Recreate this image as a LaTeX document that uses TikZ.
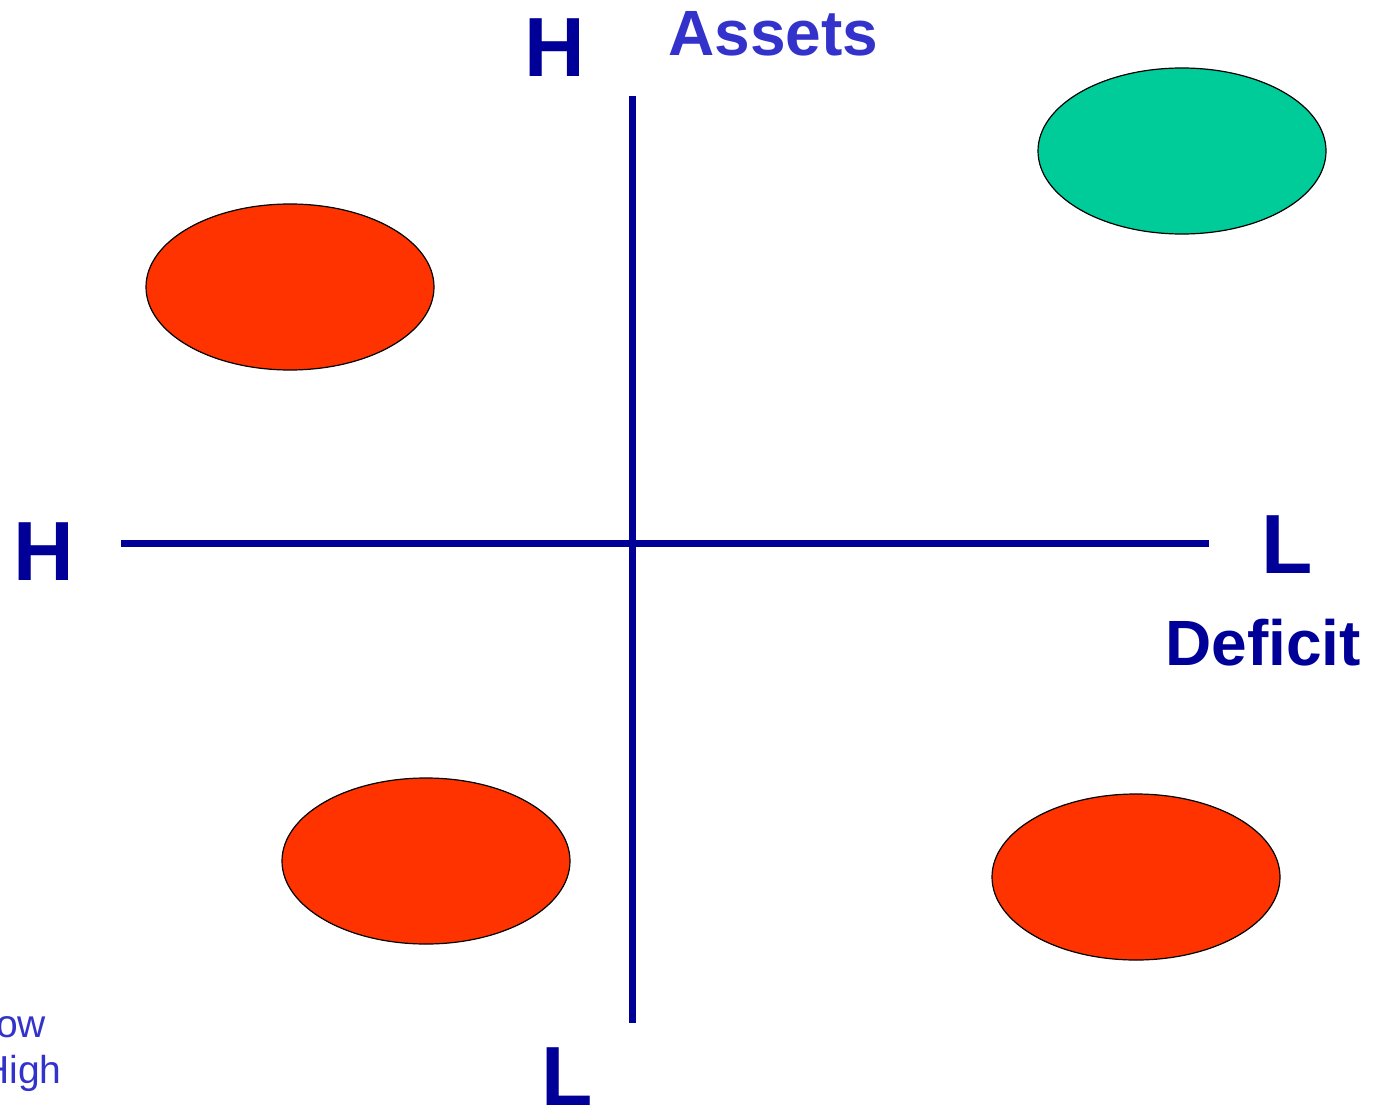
\documentclass[tikz,border=0pt]{standalone}
\usepackage{fontspec}
\setmainfont{Liberation Sans}
\usetikzlibrary{shapes.geometric}
\definecolor{axisblue}{HTML}{000099}
\definecolor{labelblue}{HTML}{3333CC}
\definecolor{blobred}{HTML}{FF3300}
\definecolor{blobgreen}{HTML}{00CC99}
\begin{document}
\begin{tikzpicture}[x=0.5pt,y=-0.5pt,
  axis/.style={draw=axisblue,line width=3.5pt},
  blob/.style={ellipse,draw=black,line width=0.6pt,minimum width=144pt,minimum height=83pt,inner sep=0pt},
  biglabel/.style={text=axisblue,font=\bfseries\fontsize{42}{48}\selectfont,inner sep=0pt,anchor=base},
  titlelabel/.style={font=\bfseries\fontsize{32}{38}\selectfont,inner sep=0pt,anchor=base west},
  smalllabel/.style={text=labelblue,font=\fontsize{19.5}{23}\selectfont,inner sep=0pt,anchor=base west}]
\useasboundingbox[fill=white] (0,0) rectangle (1375,1107);
% axes
\coordinate (vtop) at (632,96);
\coordinate (vbot) at (632,1023);
\coordinate (hleft) at (121,543);
\coordinate (hright) at (1209,543);
\draw[axis] (vtop) -- (vbot);
\draw[axis] (hleft) -- (hright);
% blobs
\node[blob,fill=blobgreen] (tr) at (1182,151) {};
\node[blob,fill=blobred] (tl) at (290,287) {};
\node[blob,fill=blobred] (bl) at (426,861) {};
\node[blob,fill=blobred] (br) at (1136,877) {};
% labels
\node[biglabel] (htop) at (555,77) {H};
\node[biglabel] (hleftlbl) at (44,580) {H};
\node[biglabel] (lright) at (1287,573) {L};
\node[biglabel] (lbot) at (567,1105) {L};
\node[titlelabel,text=labelblue] (assets) at (668,56) {Assets};
\node[titlelabel,text=axisblue] (deficit) at (1165,665) {Deficit};
\node[smalllabel] (low) at (-26,1037) {Low};
\node[smalllabel] (high) at (-19,1083) {High};
\end{tikzpicture}
\end{document}
